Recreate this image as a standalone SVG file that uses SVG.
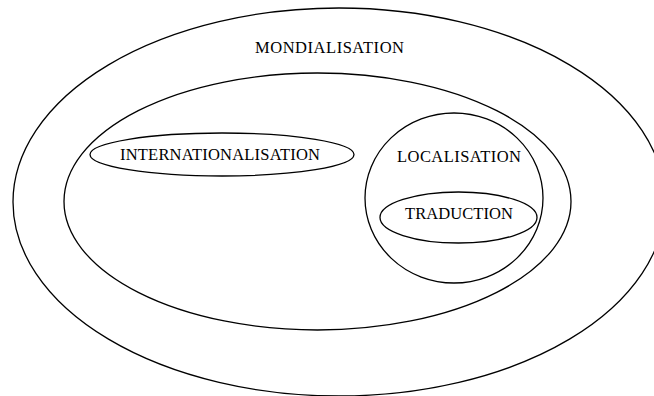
<svg xmlns="http://www.w3.org/2000/svg" width="654" height="396" viewBox="0 0 654 396">
<style>
.shape{fill:none;stroke:#000;stroke-width:1.3}
.lbl{font-family:"Liberation Serif","Times New Roman",serif;font-size:16.5px;fill:#000;text-anchor:middle}
</style>
<rect width="654" height="396" fill="#fff"/>
<g id="mondialisation">
<ellipse class="shape" cx="339" cy="202" rx="326" ry="194"/>
<text class="lbl" x="329.5" y="52.5" textLength="149" lengthAdjust="spacing">MONDIALISATION</text>
</g>
<g id="inner">
<ellipse class="shape" cx="317.5" cy="201.5" rx="253.5" ry="128.5"/>
</g>
<g id="internationalisation">
<ellipse class="shape" cx="222" cy="154.5" rx="132" ry="21.5"/>
<text class="lbl" x="220" y="159.5" textLength="200" lengthAdjust="spacing">INTERNATIONALISATION</text>
</g>
<g id="localisation">
<ellipse class="shape" cx="454" cy="198" rx="89" ry="85"/>
<text class="lbl" x="459" y="161.5" textLength="124" lengthAdjust="spacing">LOCALISATION</text>
</g>
<g id="traduction">
<ellipse class="shape" cx="458.5" cy="217.5" rx="78.5" ry="25.5"/>
<text class="lbl" x="459" y="218.5" textLength="108" lengthAdjust="spacing">TRADUCTION</text>
</g>
<g id="connectors"/>
</svg>
